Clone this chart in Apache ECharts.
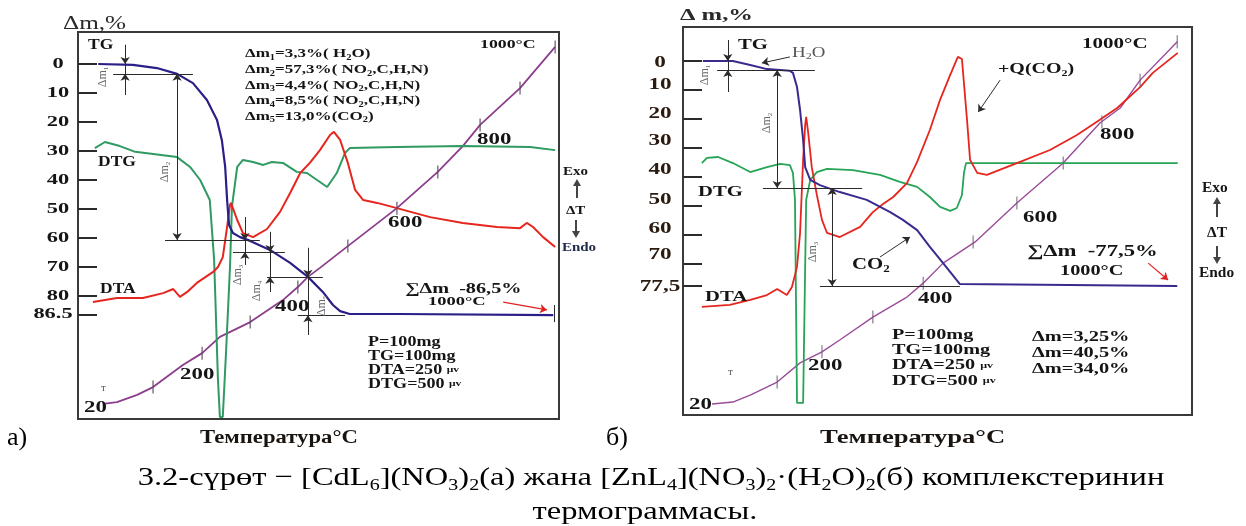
<!DOCTYPE html>
<html><head><meta charset="utf-8">
<script src="https://cdn.jsdelivr.net/npm/echarts@6/dist/echarts.min.js"></script>
<style>html,body{margin:0;padding:0;background:#fff}#c{width:1246px;height:526px}</style>
</head><body><div id="c"></div>
<script>
// ===== DATA (x: run progress, % of frame width; y: Δm,% scale of each panel) =====
const yTicksA = [0, 10, 20, 30, 40, 50, 60, 70, 80, 86.5];
const yTickLabelsA = ['0', '10', '20', '30', '40', '50', '60', '70', '80', '86.5'];
const yTicksB = [0, 10, 20, 30, 40, 50, 60, 70, 77.5];
const yTickLabelsB = ['0', '10', '20', '30', '40', '50', '60', '70', '77,5'];

// panel а) [CdL6](NO3)2
const tgA = [[4.2,0],[11.4,0.3],[16.4,1.4],[20.6,3.4],[23.9,6.6],[26.8,12.4],[28.9,19.3],[29.9,26.2],[30.6,35.5],[31.0,46.9],[31.4,55.5],[32.2,58.3],[33.7,59.7],[35.8,61.0],[39.9,64.1],[44.1,68.6],[47.8,73.4],[50.9,78.6],[53.0,83.1],[54.5,85.2],[56.5,86.2],[66.9,86.2],[98.8,86.6]];
const dtgA = [[3.5,29.0],[5.6,26.9],[8.7,28.3],[11.9,30.3],[20.6,32.1],[23.3,35.5],[25.4,40.0],[27.4,46.9],[28.3,67.6],[29.1,109.0],[29.5,121.7],[30.1,121.7],[30.8,98.6],[31.6,70.0],[32.0,49.3],[33.1,35.5],[34.3,33.1],[36.4,33.8],[38.5,34.8],[40.3,33.8],[42.6,34.1],[45.5,37.2],[47.6,37.6],[49.7,40.0],[51.8,42.4],[53.8,37.6],[55.5,30.7],[56.5,29.0],[66.3,28.6],[80.0,28.3],[94.0,28.6],[99.2,29.7]];
const dtaA = [[3.1,82.1],[8.1,80.7],[13.5,80.7],[17.7,79.0],[19.8,77.6],[21.2,80.3],[22.7,78.6],[24.7,75.5],[28.1,71.7],[29.1,70.0],[30.1,66.6],[31.0,56.2],[31.6,48.6],[31.8,47.9],[33.1,53.8],[34.3,58.3],[36.4,59.7],[39.3,56.9],[42.0,51.0],[44.1,44.5],[46.2,37.6],[48.2,34.1],[50.3,29.7],[52.4,24.5],[53.2,23.4],[54.5,26.2],[56.1,34.1],[57.6,43.4],[59.3,46.9],[62.2,47.9],[66.3,49.7],[73.2,52.8],[80.0,54.8],[87.1,56.2],[91.9,56.6],[93.3,54.8],[94.6,56.2],[96.7,59.7],[99.2,63.1]];
const tA = [[5.2,117.2],[8.1,116.6],[12.3,114.1],[15.6,111.4],[21.8,103.8],[25.8,99.7],[29.5,94.1],[35.8,89.0],[42.6,81.4],[45.7,76.9],[47.8,73.4],[50.3,70.3],[56.1,62.8],[66.3,49.7],[74.8,37.2],[80.0,28.3],[83.6,21.0],[91.9,8.3],[99.2,-5.9]];
const tTicksA = [[15.6,111.4],[25.8,99.7],[35.8,89.0],[45.7,76.9],[56.1,62.8],[66.3,49.7],[74.8,37.2],[83.6,21.0],[91.9,8.3],[99.2,-5.9]];

// panel б) [ZnL4](NO3)2·(H2O)2
const tgB = [[3.9,0],[9.8,0],[13.2,1.4],[16.5,2.8],[21.0,3.4],[21.6,4.1],[22.4,9.0],[23.0,16.9],[23.6,27.2],[24.0,36.6],[25.0,41.0],[26.9,42.8],[30.8,45.2],[36.1,47.9],[40.7,52.1],[43.2,54.8],[46.0,58.3],[48.5,64.1],[51.1,69.7],[54.4,76.9],[97.1,77.6]];
const dtgB = [[3.7,35.2],[4.7,33.4],[6.9,33.1],[9.8,35.2],[13.2,38.3],[16.5,36.6],[19.1,35.5],[21.0,35.9],[21.6,38.6],[22.0,47.9],[22.4,117.9],[23.6,117.9],[24.2,47.9],[25.0,41.0],[26.3,38.3],[28.3,37.2],[33.4,37.6],[38.7,39.3],[42.6,41.7],[46.0,43.4],[48.5,46.9],[50.5,50.3],[52.5,51.7],[53.8,50.7],[54.8,46.2],[55.2,38.6],[55.6,35.2],[57.0,35.2],[97.2,35.2]];
const dtaB = [[3.7,84.8],[9.2,84.1],[13.2,82.4],[16.5,80.7],[18.5,78.6],[20.4,80.7],[21.4,77.9],[22.4,71.0],[23.0,59.3],[23.6,34.1],[24.0,22.1],[24.2,19.3],[24.6,24.8],[25.3,36.6],[26.3,46.2],[27.3,54.8],[28.3,59.3],[30.8,60.7],[34.8,57.2],[37.3,52.1],[39.3,49.3],[41.3,46.9],[44.0,42.1],[46.0,34.8],[48.5,23.8],[50.5,13.4],[52.5,4.8],[54.0,-1.4],[54.8,-0.7],[55.8,20.3],[56.4,34.1],[57.8,38.6],[59.7,39.3],[65.6,35.2],[72.1,30.7],[77.4,25.5],[81.9,20.3],[85.3,16.2],[89.8,9.0],[92.3,4.1],[97.2,-2.8]];
const tB = [[5.7,118.3],[9.8,117.6],[13.2,115.2],[18.5,110.7],[23.0,104.1],[27.3,100.3],[30.8,96.2],[37.3,88.3],[44.0,81.4],[47.2,76.6],[51.1,69.7],[57.4,62.4],[65.6,49.0],[74.7,35.2],[81.9,21.4],[85.9,16.2],[89.8,6.6],[97.1,-6.6]];
const tTicksB = [[18.5,110.7],[27.3,100.3],[37.3,88.3],[47.2,76.6],[57.0,62.4],[65.6,49.0],[74.7,35.2],[82.3,21.0],[89.8,6.6],[97.1,-6.6]];

// annotation guide lines [x1,y1,x2,y2] and arrows (tip at 2nd point)
const guidesA = [[7.3,3.4,23.9,3.4],[18.1,60.7,37.8,60.7],[32.2,64.8,43.0,64.8],[39.3,73.4,50.9,73.4],[45.7,86.6,55.5,86.6],[99.0,83.1,99.0,89.0],
  [9.8,-6.6,9.8,10.7],[20.6,3.4,20.6,60.7],[34.7,52.8,34.7,69.3],[39.9,57.9,39.9,78.6],[47.8,63.4,47.8,93.4]];
const arrowsA = [[9.8,-6.6,9.8,0],[9.8,10.7,9.8,3.4],[20.6,30,20.6,3.4],[20.6,30,20.6,60.7],[34.7,52.8,34.7,60.7],[34.7,69.3,34.7,64.8],
  [39.9,57.9,39.9,64.8],[39.9,78.6,39.9,73.4],[47.8,63.4,47.8,73.4],[47.8,93.4,47.8,86.6]];
const redArrowA = [88.4,82.1,97.5,84.8];
const guidesB = [[6.7,3.1,25.9,3.1],[15.7,43.8,35.2,43.8],[26.9,77.6,54.4,77.6],[8.8,-7.2,8.8,10.7],[18.5,3.1,18.5,43.8],[29.3,43.8,29.3,77.6]];
const arrowsB = [[8.8,-7.2,8.8,0],[8.8,10.7,8.8,3.1],[18.5,20,18.5,3.1],[18.5,20,18.5,43.8],[29.3,60,29.3,43.8],[29.3,60,29.3,77.6],
  [21.0,-1.4,15.5,0.7],[38.7,67.6,44.6,60.7],[62.3,6.6,58.0,17.6]];
const redArrowB = [91.4,69.7,95.3,75.5];

// ===== CHART =====
const C = { tg: '#2a1f86', dtg: '#2f9a62', dta: '#e6261e', t: '#8c3e8d' };
const SERIF = '"Liberation Serif","DejaVu Serif",serif';
const chart = echarts.init(document.getElementById('c'));

function lineS(gi, data, color, width, extra) {
  return Object.assign({ type: 'line', xAxisIndex: gi, yAxisIndex: gi, data, symbol: 'none', showSymbol: false,
    lineStyle: { color, width }, silent: true, z: 3, animation: false }, extra || {});
}
function markLines(guides, arrows, red) {
  const d = [];
  guides.forEach(g => d.push([{ coord: [g[0], g[1]], symbol: 'none' }, { coord: [g[2], g[3]], symbol: 'none' }]));
  arrows.forEach(g => d.push([{ coord: [g[0], g[1]], symbol: 'none' }, { coord: [g[2], g[3]], symbol: 'arrow' }]));
  d.push([{ coord: [red[0], red[1]], symbol: 'none', lineStyle: { color: '#e02020', width: 1.2, type: 'solid' } },
          { coord: [red[2], red[3]], symbol: 'arrow', lineStyle: { color: '#e02020', width: 1.2, type: 'solid' } }]);
  return { silent: true, animation: false, symbolSize: 7, label: { show: false }, emphasis: { disabled: true },
    lineStyle: { type: 'solid', color: '#2b2b2b', width: 1 }, data: d };
}
function yAx(gi, min, max, ticks) {
  return { gridIndex: gi, type: 'value', inverse: true, min, max, axisLine: { show: false }, splitLine: { show: false },
    axisLabel: { show: false },
    axisTick: { show: true, inside: true, length: 19, customValues: ticks, lineStyle: { color: '#2b2b2b', width: 2 } } };
}

chart.setOption({
  animation: false,
  grid: [
    { left: 78, top: 32, width: 481, height: 387, show: true, borderColor: '#3a3a3a', borderWidth: 2 },
    { left: 683, top: 27, width: 509, height: 388, show: true, borderColor: '#3a3a3a', borderWidth: 2 }
  ],
  xAxis: [
    { gridIndex: 0, type: 'value', min: 0, max: 100, show: false },
    { gridIndex: 1, type: 'value', min: 0, max: 100, show: false }
  ],
  yAxis: [yAx(0, -11.03, 122.41, yTicksA), yAx(1, -11.72, 122.07, yTicksB)],
  series: [
    lineS(0, tA, C.t, 1.8),
    lineS(0, dtgA, C.dtg, 2),
    lineS(0, dtaA, C.dta, 2),
    lineS(0, tgA, C.tg, 2.2, { markLine: markLines(guidesA, arrowsA, redArrowA) }),
    { type: 'scatter', xAxisIndex: 0, yAxisIndex: 0, data: tTicksA, symbol: 'rect', symbolSize: [1.4, 13], itemStyle: { color: '#5b4a5e' }, silent: true, z: 4 },
    lineS(1, tB, '#9a4b9a', 1.4),
    lineS(1, dtgB, '#27a455', 1.8),
    lineS(1, dtaB, C.dta, 1.8),
    lineS(1, tgB, '#3a2a8e', 2, { markLine: markLines(guidesB, arrowsB, redArrowB) }),
    { type: 'scatter', xAxisIndex: 1, yAxisIndex: 1, data: tTicksB, symbol: 'rect', symbolSize: [1.2, 13], itemStyle: { color: '#6a5a6e' }, silent: true, z: 4 }
  ]
});

// ===== TEXT =====
function tx(x, y, text, o) {
  o = o || {};
  const fs = o.fs || 14, fw = o.fw || 'bold', fill = o.color || '#151515';
  const rich = {
    s: { fontSize: Math.round(fs * 0.62), lineHeight: Math.round(fs * 0.5), verticalAlign: 'bottom', fontFamily: SERIF, fontWeight: fw, fill },
    p: { fontSize: Math.round(fs * 0.62), lineHeight: Math.round(fs * 1.2), verticalAlign: 'middle', fontFamily: SERIF, fontWeight: fw, fill }
  };
  return { type: 'text', x, y, rotation: o.rot || 0, scaleX: o.sx || 1, silent: true, z: 100,
    style: { text, fill, fontSize: fs, fontFamily: SERIF, fontWeight: fw, lineHeight: Math.round(fs * 1.2),
      align: o.align || 'left', verticalAlign: 'middle', textAlign: o.align || 'left', textVerticalAlign: 'middle', rich } };
}
function arrowG(x, y1, y2, color) {
  const dir = y2 < y1 ? -1 : 1;
  return [
    { type: 'line', silent: true, shape: { x1: x, y1: y1, x2: x, y2: y2 - dir * 4 }, style: { stroke: color, lineWidth: 2 } },
    { type: 'polygon', silent: true, shape: { points: [[x, y2], [x - 4, y2 - dir * 7], [x + 4, y2 - dir * 7]] }, style: { fill: color } }
  ];
}

const g = [];
// y tick labels placed through the axis scales (small per-label nudges as in the scan)
const labelNudgeB = [2, -5, -5, -7, -7, -6, -6, -9, 1];
yTicksA.forEach((v, i) => {
  const py = chart.convertToPixel({ yAxisIndex: 0 }, v);
  g.push(tx(i === yTicksA.length - 1 ? 53 : 58, py, yTickLabelsA[i], { fs: 14, sx: 1.6, align: 'center' }));
});
yTicksB.forEach((v, i) => {
  const py = chart.convertToPixel({ yAxisIndex: 1 }, v);
  g.push(tx(660, py + labelNudgeB[i], yTickLabelsB[i], { fs: 16, sx: 1.45, align: 'center', color: '#2a1a10' }));
});

// ---- panel а
g.push(tx(63, 24, 'Δm,%', { fs: 18, fw: 'normal', sx: 1.4, color: '#2a2a2a' }));
g.push(tx(88, 45, 'TG', { fs: 14, sx: 1.25 }));
g.push(tx(98, 162, 'DTG', { fs: 14, sx: 1.25 }));
g.push(tx(100, 289, 'DTA', { fs: 14, sx: 1.25 }));
g.push(tx(101, 388, 'т', { fs: 11, fw: 'normal', color: '#555' }));
g.push(tx(84, 408, '20', { fs: 16, sx: 1.43 }));
g.push(tx(180, 375, '200', { fs: 16, sx: 1.43 }));
g.push(tx(275, 307, '400', { fs: 16, sx: 1.43 }));
g.push(tx(388, 223, '600', { fs: 16, sx: 1.43 }));
g.push(tx(477, 140, '800', { fs: 16, sx: 1.43 }));
g.push(tx(480, 45, '1000°C', { fs: 13, sx: 1.37 }));
['Δm{s|1}=3,3%( H{s|2}O)', 'Δm{s|2}=57,3%( NO{s|2},C,H,N)', 'Δm{s|3}=4,4%( NO{s|2},C,H,N)', 'Δm{s|4}=8,5%( NO{s|2},C,H,N)', 'Δm{s|5}=13,0%(CO{s|2})']
  .forEach((t, i) => g.push(tx(245, 54 + i * 15.6, t, { fs: 13, sx: 1.31 })));
[[103, 77, 'Δm{s|1}'], [165, 172, 'Δm{s|2}'], [238, 275, 'Δm{s|3}'], [257, 291, 'Δm{s|4}'], [322, 306, 'Δm{s|5}']]
  .forEach(a => g.push(tx(a[0], a[1], a[2], { fs: 12, fw: 'normal', color: '#666', rot: Math.PI / 2, align: 'center' })));
g.push(tx(405, 289, '∑Δm  -86,5%', { fs: 15, sx: 1.35 }));
g.push(tx(428, 302, '1000°C', { fs: 13, sx: 1.42 }));
['P=100mg', 'TG=100mg', 'DTA=250 {p|μv}', 'DTG=500 {p|μv}'].forEach((t, i) => g.push(tx(368, 342 + i * 14, t, { fs: 14, sx: 1.29 })));
g.push(tx(563, 172, 'Exo', { fs: 13, sx: 1.15 }));
g.push(...arrowG(577, 198, 179, '#444'));
g.push(tx(566, 211, 'ΔT', { fs: 13, sx: 1.15 }));
g.push(...arrowG(576, 220, 238, '#444'));
g.push(tx(562, 248, 'Endo', { fs: 13, sx: 1.15, color: '#1d2a48' }));
g.push(tx(200, 438, 'Температура°С', { fs: 18, sx: 1.26, color: '#1a1410' }));
g.push(tx(7, 438, 'а)', { fs: 26, fw: 'normal', color: '#000' }));

// ---- panel б
g.push(tx(680, 16, 'Δ m,%', { fs: 17, sx: 1.45, color: '#2a2a2a' }));
g.push(tx(738, 45, 'TG', { fs: 15, sx: 1.38 }));
g.push(tx(792, 53, 'H{s|2}O', { fs: 14, fw: 'normal', sx: 1.35, color: '#555' }));
g.push(tx(698, 192, 'DTG', { fs: 15, sx: 1.38 }));
g.push(tx(705, 297, 'DTA', { fs: 15, sx: 1.38 }));
g.push(tx(728, 372, 'т', { fs: 11, fw: 'normal', color: '#555' }));
g.push(tx(689, 405, '20', { fs: 16, sx: 1.43 }));
g.push(tx(808, 366, '200', { fs: 16, sx: 1.43 }));
g.push(tx(918, 299, '400', { fs: 16, sx: 1.43 }));
g.push(tx(1023, 218, '600', { fs: 16, sx: 1.43 }));
g.push(tx(1100, 135, '800', { fs: 16, sx: 1.43 }));
g.push(tx(1082, 44, '1000°C', { fs: 14, sx: 1.5 }));
g.push(tx(998, 69, '+Q(CO{s|2})', { fs: 15, sx: 1.33 }));
g.push(tx(852, 265, 'CO{s|2}', { fs: 16, sx: 1.3 }));
[[705, 75, 'Δm{s|1}'], [767, 123, 'Δm{s|2}'], [813, 252, 'Δm{s|3}']]
  .forEach(a => g.push(tx(a[0], a[1], a[2], { fs: 12, fw: 'normal', color: '#666', rot: Math.PI / 2, align: 'center' })));
g.push(tx(1027, 252, '∑Δm  -77,5%', { fs: 16, sx: 1.42 }));
g.push(tx(1060, 271, '1000°C', { fs: 14, sx: 1.45 }));
['P=100mg', 'TG=100mg', 'DTA=250 {p|μv}', 'DTG=500 {p|μv}'].forEach((t, i) => g.push(tx(892, 335 + i * 15.3, t, { fs: 15, sx: 1.35 })));
['Δm=3,25%', 'Δm=40,5%', 'Δm=34,0%'].forEach((t, i) => g.push(tx(1032, 337 + i * 16, t, { fs: 15, sx: 1.36 })));
g.push(tx(1202, 188, 'Exo', { fs: 14, sx: 1.1 }));
g.push(...arrowG(1217, 217, 197, '#444'));
g.push(tx(1207, 233, 'ΔT', { fs: 14, sx: 1.1 }));
g.push(...arrowG(1217, 246, 264, '#444'));
g.push(tx(1199, 273, 'Endo', { fs: 14, sx: 1.1 }));
g.push(tx(820, 438, 'Температура°С', { fs: 19, sx: 1.4, color: '#1a1410' }));
g.push(tx(606, 438, 'б)', { fs: 26, fw: 'normal', color: '#000' }));

// ---- caption
const cap = { fs: 26, fw: 'normal', color: '#000', sx: 1.25, align: 'center' };
g.push(tx(651, 478, '3.2-сүрөт − [CdL{s|6}](NO{s|3}){s|2}(а) жана [ZnL{s|4}](NO{s|3}){s|2}·(H{s|2}O){s|2}(б) комплекстеринин', cap));
g.push(tx(645, 512, 'термограммасы.', cap));

chart.setOption({ graphic: { elements: g } });
</script></body></html>
